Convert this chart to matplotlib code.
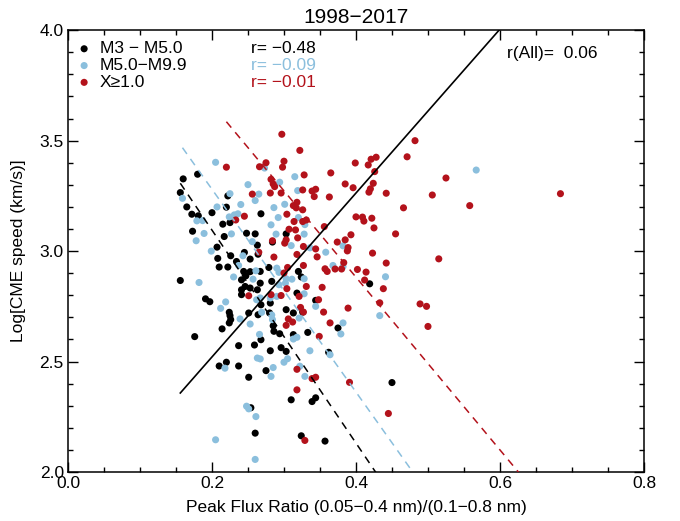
import matplotlib
matplotlib.use("Agg")
import matplotlib.pyplot as plt
import numpy as np

plt.rcParams['font.family'] = ['Liberation Sans', 'DejaVu Sans']

# M3 - M5.0 events
m3_x = [0.160, 0.180, 0.156, 0.165, 0.172, 0.181, 0.173, 0.200, 0.220, 0.222,
        0.215, 0.225, 0.217, 0.207, 0.208, 0.226, 0.222, 0.210, 0.234, 0.248,
        0.260, 0.268, 0.263, 0.245, 0.253, 0.264, 0.244, 0.253, 0.247, 0.267,
        0.279, 0.283, 0.241, 0.267, 0.156, 0.303, 0.284, 0.320, 0.324, 0.191,
        0.197, 0.224, 0.225, 0.224, 0.226, 0.214, 0.176, 0.251, 0.241, 0.246,
        0.253, 0.241, 0.263, 0.264, 0.268, 0.281, 0.280, 0.285, 0.286, 0.294,
        0.303, 0.313, 0.326, 0.313, 0.333, 0.268, 0.259, 0.237, 0.281, 0.296,
        0.303, 0.362, 0.375, 0.220, 0.210, 0.237, 0.275, 0.251, 0.310, 0.339,
        0.344, 0.254, 0.260, 0.324, 0.357, 0.344, 0.318, 0.419, 0.450]
m3_y = [3.327, 3.348, 3.265, 3.200, 3.167, 3.160, 3.090, 3.174, 3.199, 3.250,
        3.122, 3.129, 3.066, 3.018, 2.967, 2.979, 2.928, 2.928, 2.953, 3.081,
        3.078, 3.169, 3.027, 2.994, 2.964, 2.986, 2.908, 2.907, 2.888, 2.908,
        2.926, 2.863, 2.870, 2.855, 2.867, 3.078, 3.041, 2.908, 2.883, 2.784,
        2.771, 2.723, 2.708, 2.675, 2.690, 2.648, 2.613, 2.720, 2.825, 2.840,
        2.833, 2.803, 2.825, 2.712, 2.757, 2.765, 2.720, 2.662, 2.637, 2.626,
        2.735, 2.720, 2.724, 2.622, 2.632, 2.599, 2.575, 2.572, 2.549, 2.563,
        2.546, 2.542, 2.652, 2.497, 2.480, 2.480, 2.459, 2.429, 2.327, 2.319,
        2.336, 2.291, 2.176, 2.164, 2.140, 2.777, 2.810, 2.852, 2.405]

# M5.0 - M9.9 events
m5_x = [0.159, 0.205, 0.179, 0.187, 0.189, 0.178, 0.207, 0.225, 0.224, 0.227,
        0.199, 0.250, 0.260, 0.265, 0.240, 0.231, 0.236, 0.243, 0.256, 0.273,
        0.294, 0.286, 0.292, 0.301, 0.282, 0.289, 0.315, 0.319, 0.320, 0.328,
        0.329, 0.310, 0.290, 0.293, 0.303, 0.311, 0.328, 0.358, 0.368, 0.382,
        0.382, 0.230, 0.182, 0.261, 0.237, 0.257, 0.219, 0.212, 0.239, 0.253,
        0.267, 0.262, 0.269, 0.283, 0.284, 0.266, 0.290, 0.281, 0.302, 0.293,
        0.321, 0.318, 0.313, 0.344, 0.328, 0.336, 0.382, 0.379, 0.263, 0.267,
        0.305, 0.300, 0.218, 0.285, 0.282, 0.322, 0.329, 0.364, 0.248, 0.251,
        0.261, 0.205, 0.260, 0.567, 0.336, 0.441, 0.433]
m5_y = [3.239, 3.402, 3.137, 3.138, 3.080, 3.047, 3.200, 3.260, 3.155, 3.078,
        3.000, 3.301, 3.229, 3.258, 3.211, 3.164, 3.169, 2.979, 3.043, 3.376,
        3.312, 3.197, 3.152, 3.212, 3.119, 3.077, 3.337, 3.274, 3.152, 3.077,
        3.120, 3.025, 2.923, 2.904, 2.875, 2.873, 2.875, 2.995, 2.935, 3.024,
        2.930, 2.883, 2.858, 2.911, 2.935, 2.873, 2.770, 2.741, 2.693, 2.670,
        2.788, 2.780, 2.723, 2.711, 2.690, 2.623, 2.795, 2.788, 2.855, 2.848,
        2.697, 2.610, 2.602, 2.750, 2.807, 2.549, 2.675, 2.625, 2.516, 2.512,
        2.513, 2.497, 2.470, 2.473, 2.433, 2.479, 2.433, 2.531, 2.298, 2.286,
        2.251, 2.146, 2.057, 3.367, 3.015, 2.884, 2.708]

# X class events
x_x = [0.297, 0.322, 0.220, 0.266, 0.275, 0.300, 0.298, 0.328, 0.365, 0.282,
       0.285, 0.287, 0.281, 0.296, 0.326, 0.339, 0.344, 0.342, 0.363, 0.385,
       0.256, 0.313, 0.318, 0.317, 0.326, 0.304, 0.245, 0.233, 0.314, 0.326,
       0.331, 0.316, 0.307, 0.319, 0.303, 0.301, 0.284, 0.356, 0.344, 0.318,
       0.327, 0.374, 0.385, 0.389, 0.388, 0.286, 0.265, 0.346, 0.327, 0.305,
       0.300, 0.357, 0.360, 0.371, 0.380, 0.383, 0.331, 0.353, 0.304, 0.251,
       0.282, 0.296, 0.321, 0.323, 0.348, 0.355, 0.364, 0.389, 0.306, 0.312,
       0.303, 0.327, 0.349, 0.318, 0.339, 0.344, 0.318, 0.329, 0.391, 0.482,
       0.471, 0.428, 0.421, 0.417, 0.399, 0.426, 0.396, 0.424, 0.420, 0.418,
       0.442, 0.525, 0.506, 0.558, 0.466, 0.400, 0.409, 0.411, 0.422, 0.425,
       0.455, 0.393, 0.423, 0.442, 0.515, 0.402, 0.414, 0.412, 0.438, 0.684,
       0.489, 0.498, 0.500, 0.433, 0.445]
x_y = [3.529, 3.456, 3.380, 3.382, 3.400, 3.407, 3.380, 3.345, 3.354, 3.325,
       3.304, 3.292, 3.263, 3.263, 3.277, 3.272, 3.280, 3.247, 3.245, 3.304,
       3.258, 3.206, 3.221, 3.196, 3.187, 3.167, 3.158, 3.141, 3.134, 3.134,
       3.141, 3.096, 3.099, 3.060, 3.051, 3.036, 3.047, 3.111, 3.010, 2.985,
       3.021, 3.041, 3.051, 3.016, 3.001, 2.973, 2.995, 2.974, 2.935, 2.926,
       2.901, 2.920, 2.908, 2.919, 2.919, 2.948, 2.840, 2.836, 2.830, 2.798,
       2.803, 2.799, 2.795, 2.745, 2.780, 2.724, 2.675, 2.742, 2.693, 2.679,
       2.664, 2.724, 2.614, 2.465, 2.423, 2.429, 2.372, 2.143, 2.406, 3.500,
       3.427, 3.425, 3.416, 3.390, 3.399, 3.360, 3.287, 3.307, 3.282, 3.267,
       3.262, 3.331, 3.254, 3.206, 3.196, 3.155, 3.154, 3.136, 3.149, 3.105,
       3.078, 3.074, 2.991, 2.946, 2.965, 2.917, 2.905, 2.869, 2.830, 3.260,
       2.761, 2.750, 2.659, 2.766, 2.265]

# linear fits per class: start x, slope, intercept
fit_start = [0.156, 0.159, 0.220]
fit_slope = [-4.82, -4.59, -3.91]
fit_icpt = [4.059, 4.198, 4.446]
r_vals = [-0.48, -0.09, -0.01]
labels = ['M3 \u2212 M5.0', 'M5.0\u2212M9.9', 'X\u22651.0']
colors = ['black', '#8bbfdd', '#b3121b']

# fit for all events
all_start = 0.156
all_slope = 3.71
all_icpt = 1.779
r_all = 0.06

fig = plt.figure(figsize=(6.8, 5.21), dpi=100)
ax = fig.add_axes([0.1, 0.094, 0.847, 0.848])

groups = [(m3_x, m3_y), (m5_x, m5_y), (x_x, x_y)]
for (gx, gy), c in zip(groups, colors):
    ax.scatter(gx, gy, s=26, color=c, edgecolors='none', zorder=3)

for i in range(3):
    xx = np.array([fit_start[i], 0.8])
    ax.plot(xx, fit_slope[i] * xx + fit_icpt[i], color=colors[i], lw=1.1,
            ls=(0, (5, 4)), zorder=4)

xx = np.array([all_start, 0.8])
ax.plot(xx, all_slope * xx + all_icpt, color='black', lw=1.2, zorder=4)

ax.set_xlim(0, 0.8)
ax.set_ylim(2.0, 4.0)
ax.set_xticks(np.arange(0, 0.81, 0.2))
ax.set_xticks(np.arange(0, 0.81, 0.05), minor=True)
ax.set_yticks(np.arange(2.0, 4.01, 0.5))
ax.set_yticks(np.arange(2.0, 4.01, 0.1), minor=True)
ax.tick_params(which='both', direction='in', top=True, right=True,
               labelsize=12.5, width=1.0)
ax.tick_params(which='major', length=7, pad=3)
ax.tick_params(which='minor', length=3.5)
for sp in ax.spines.values():
    sp.set_linewidth(1.1)

ax.set_xlabel('Peak Flux Ratio (0.05\u22120.4 nm)/(0.1\u22120.8 nm)', fontsize=12.5,
              labelpad=6)
ax.set_ylabel('Log[CME speed (km/s)]', fontsize=12.5, labelpad=10)
ax.set_title('1998\u22122017', fontsize=15, pad=5)

ypos = [0.958, 0.92, 0.882]
for i in range(3):
    ax.scatter([0.028], [ypos[i]], s=26, color=colors[i], edgecolors='none',
               transform=ax.transAxes, clip_on=False)
    ax.text(0.055, ypos[i], labels[i], transform=ax.transAxes, fontsize=12.5,
            va='center', ha='left', color='black')
    ax.text(0.318, ypos[i], 'r= \u2212%.2f' % abs(r_vals[i]), transform=ax.transAxes,
            fontsize=12.5, va='center', ha='left', color=colors[i])
ax.text(0.762, 0.947, 'r(All)=  %.2f' % r_all, transform=ax.transAxes,
        fontsize=12.5, va='center', ha='left')

fig.savefig('out.png', dpi=100)
